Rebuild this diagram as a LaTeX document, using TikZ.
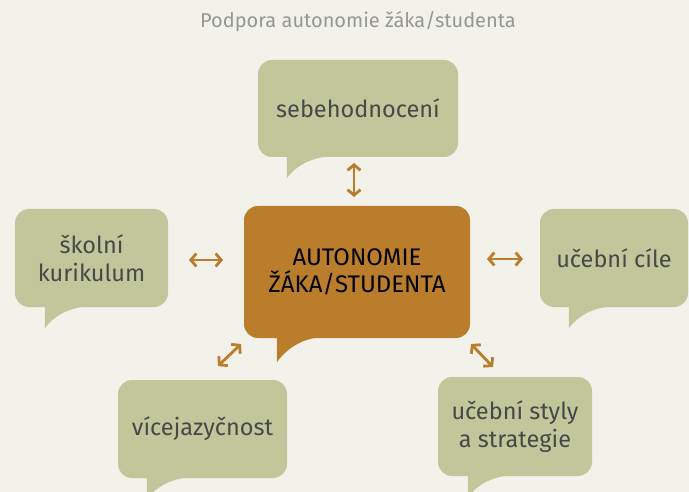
\documentclass[tikz,border=0pt]{standalone}
\usepackage{fontspec}
\setmainfont{Fira Sans}
\usetikzlibrary{arrows.meta,calc}
\definecolor{bg}{RGB}{242,242,235}
\definecolor{sage}{RGB}{193,199,155}
\definecolor{ochre}{RGB}{185,125,44}
\definecolor{txt}{RGB}{72,72,72}
\definecolor{ttl}{RGB}{150,150,150}
\newcommand\bubbletail[4]{\fill[#3] ($(#1.south west)+(#2,-2)$) -- ++(0,#4) .. controls +(8,-11) and +(-22,1) .. ($(#1.south west)+(#2+45,-1)$) -- cycle;}
\begin{document}
\begin{tikzpicture}[x=1pt,y=-1pt,
  bubble/.style={rounded corners=14pt, inner sep=0pt, align=center},
  sagebox/.style={bubble, fill=sage, text=txt, font=\fontsize{23.5}{28}\selectfont},
  corebox/.style={bubble, fill=ochre, text=black, font=\fontsize{24}{27}\selectfont},
  conn/.style={draw=ochre, line width=2.8pt, {Straight Barb[length=5.5pt,width=13pt]}-{Straight Barb[length=5.5pt,width=13pt]}}
]
\fill[bg] (0,0) rectangle (689,492);
\useasboundingbox (0,0) rectangle (689,492);

\node[text=ttl, font=\fontsize{20}{24}\selectfont] (title) at (358,22) {Podpora autonomie žáka/studenta};

\node[corebox, minimum width=226pt, minimum height=132pt] (core) at (357,272) {AUTONOMIE\\ŽÁKA/STUDENTA};
\bubbletail{core}{33}{ochre}{26}

\node[sagebox, minimum width=200pt, minimum height=97pt] (top) at (358,108.5) {sebehodnocení};
\bubbletail{top}{29}{sage}{23}

\node[sagebox, minimum width=153pt, minimum height=98pt] (left) at (91.5,258) {školní\\kurikulum};
\bubbletail{left}{30}{sage}{23}

\node[sagebox, minimum width=148pt, minimum height=98pt] (right) at (614,258) {učební cíle};
\bubbletail{right}{29}{sage}{23}

\node[sagebox, minimum width=169pt, minimum height=98pt] (bl) at (202.5,429) {vícejazyčnost};
\bubbletail{bl}{29}{sage}{23}

\node[sagebox, minimum width=154pt, minimum height=99pt] (br) at (515,426.5) {učební styly\\a strategie};
\bubbletail{br}{30}{sage}{23}

\coordinate (t1) at (354,163); \coordinate (t2) at (354,197);
\coordinate (l1) at (189,260); \coordinate (l2) at (223,260);
\coordinate (r1) at (487,259); \coordinate (r2) at (523,259);
\coordinate (b1) at (218,366); \coordinate (b2) at (241,344);
\coordinate (c1) at (471,344); \coordinate (c2) at (493,367);
\draw[conn] (t1) -- (t2);
\draw[conn] (l1) -- (l2);
\draw[conn] (r1) -- (r2);
\draw[conn] (b1) -- (b2);
\draw[conn] (c1) -- (c2);
\end{tikzpicture}
\end{document}
